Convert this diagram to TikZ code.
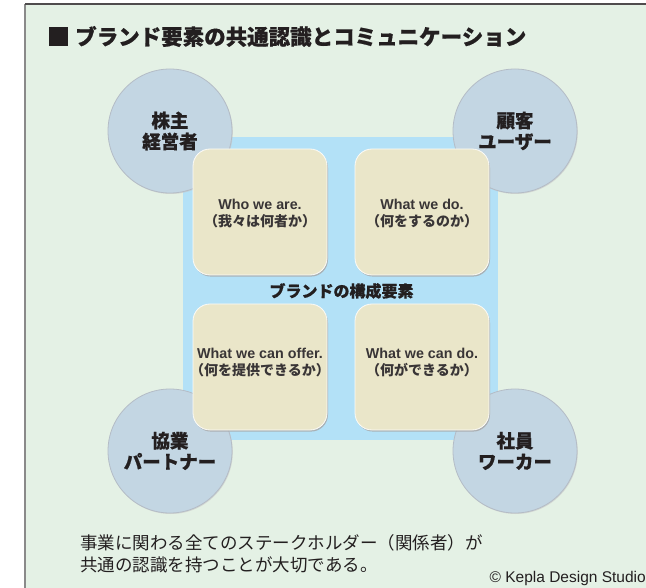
\documentclass[tikz,border=0pt]{standalone}
\usepackage{fontspec}
\setmainfont{Noto Sans CJK JP}
\newfontfamily\heavy{Noto Sans CJK JP}[BoldFeatures={FakeBold=0.6}]
\newfontfamily\latin{Liberation Sans}
\usetikzlibrary{shadows}
\definecolor{bgc}{HTML}{E4F1E5}
\definecolor{coreblue}{HTML}{B3E1F7}
\definecolor{circc}{HTML}{C3D6E3}
\definecolor{circline}{HTML}{B4BCC6}
\definecolor{beige}{HTML}{EAE6C9}
\definecolor{ink}{HTML}{231F20}
\definecolor{framec}{HTML}{8A8A8A}
\tikzset{
  party/.style={circle, minimum size=124pt, inner sep=0pt, fill=circc, draw=circline, line width=0.8pt,
    font=\heavy\bfseries\fontsize{18.5}{21}\selectfont, text=ink, align=center,
    drop shadow={shadow xshift=0.8pt, shadow yshift=-1pt, fill=gray!45, opacity=0.6}},
  elem/.style={rounded corners=17pt, minimum width=134pt, minimum height=126pt, inner sep=0pt,
    fill=beige, draw=white!85!beige, line width=0.8pt,
    drop shadow={shadow xshift=1pt, shadow yshift=-1.6pt, fill=gray!70, opacity=0.8}},
  elemtext/.style={font=\bfseries\fontsize{14}{17}\selectfont, text=ink!90, align=center, inner sep=0pt},
}
\newcommand{\lat}[1]{{\latin\bfseries\fontsize{14.3}{17}\selectfont #1}}
\begin{document}
\begin{tikzpicture}[x=1pt,y=-1pt]
\useasboundingbox (0,0) rectangle (646,588);
\clip (0,0) rectangle (646,588);
\fill[white] (0,0) rectangle (646,588);
\fill[bgc] (25,4) rectangle (700,650);
\draw[draw=framec, line width=1.3pt] (25,650) -- (25,4);
\draw[draw=ink!80, line width=1.3pt] (25,4) -- (700,4);
% title
\node (sq) [fill=ink, minimum size=19pt, inner sep=0pt] at (58.5,36.5) {};
\node (title) [anchor=west, inner sep=0pt, text=ink, font=\heavy\bfseries\fontsize{21.5}{24}\selectfont] at (75,36.5) {ブランド要素の共通認識とコミュニケーション};
% core area
\node (core) [fill=coreblue, minimum width=315pt, minimum height=302pt, inner sep=0pt] at (340.5,288.5) {};
% stakeholders
\node (p1) [party] at (170,131) {株主\\経営者};
\node (p2) [party] at (515,131) {顧客\\ユーザー};
\node (p3) [party] at (170,451) {協業\\パートナー};
\node (p4) [party] at (515,451) {社員\\ワーカー};
% elements
\node (e1) [elem] at (260,212) {};
\node (e2) [elem] at (422,212) {};
\node (e3) [elem] at (260,367) {};
\node (e4) [elem] at (422,367) {};
\node (t1) [elemtext] at (260,214) {\lat{Who we are.}\\（我々は何者か）};
\node (t2) [elemtext] at (422,214) {\lat{What we do.}\\（何をするのか）};
\node (t3) [elemtext] at (260,363) {\lat{What we can offer.}\\（何を提供できるか）};
\node (t4) [elemtext] at (422,363) {\lat{What we can do.}\\（何ができるか）};
\node (cl) [font=\heavy\bfseries\fontsize{16}{18}\selectfont, text=ink, inner sep=0pt] at (341.5,291) {ブランドの構成要素};
% bottom note
\node (note) [anchor=north west, align=left, inner sep=0pt, text=ink, font=\fontsize{17.5}{22}\selectfont] at (80,534) {事業に関わる全てのステークホルダー（関係者）が\\共通の認識を持つことが大切である。};
\node (copy) [anchor=east, inner sep=0pt, text=ink, font=\latin\fontsize{15.5}{17}\selectfont] at (646,578) {© Kepla Design Studio};
\end{tikzpicture}
\end{document}
